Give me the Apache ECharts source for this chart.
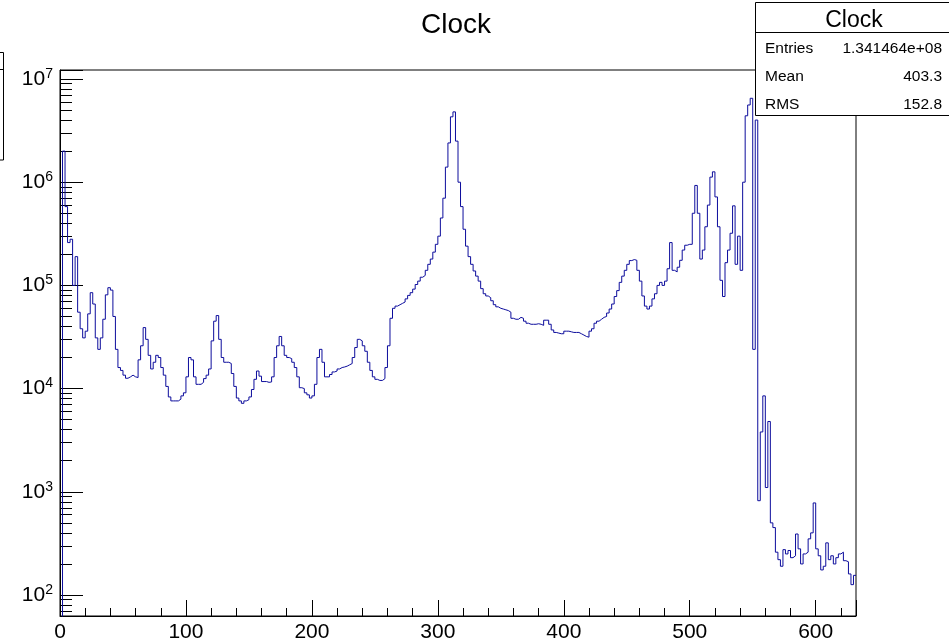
<!DOCTYPE html>
<html>
<head>
<meta charset="utf-8">
<script src="https://cdn.jsdelivr.net/npm/echarts@6/dist/echarts.min.js"></script>
<style>html,body{margin:0;padding:0;background:#fff;}#c{width:949px;height:644px;}</style>
</head>
<body>
<div id="c"></div>
<script>
// ---- data (histogram "Clock") ----
const binStart = 0;
const binWidth = 2;
const xMax = 632;
const yMin = 62.6;
const yMax = 1.222e7;
const counts = [
  10, 2.0e6, 5.8e5, 2.6e5, 2.8e5, 1.0e5, 1.9e5, 5.5e4, 3.8e4, 3.1e4,
  3.6e4, 5.3e4, 8.5e4, 6.6e4, 3.1e4, 2.4e4, 3.1e4, 4.7e4, 8.1e4, 9.5e4,
  9.0e4, 5.0e4, 2.4e4, 1.6e4, 1.5e4, 1.35e4, 1.26e4, 1.3e4, 1.35e4, 1.3e4,
  1.28e4, 1.9e4, 2.6e4, 3.9e4, 3.0e4, 2.1e4, 1.55e4, 1.8e4, 2.1e4, 2.0e4,
  1.6e4, 1.35e4, 1.05e4, 8.3e3, 7.6e3, 7.6e3, 7.6e3, 7.9e3, 8.5e3, 9.1e3,
  1.3e4, 2.0e4, 1.9e4, 1.3e4, 1.1e4, 1.1e4, 1.15e4, 1.25e4, 1.35e4, 1.55e4,
  2.9e4, 4.5e4, 5.1e4, 3.0e4, 2.0e4, 1.8e4, 1.8e4, 1.75e4, 1.4e4, 1.05e4,
  8.1e3, 7.6e3, 7.2e3, 7.6e3, 7.8e3, 8.3e3, 9.8e3, 1.23e4, 1.48e4, 1.32e4,
  1.17e4, 1.17e4, 1.15e4, 1.16e4, 1.3e4, 2.0e4, 2.6e4, 3.2e4, 2.6e4, 2.1e4,
  2.0e4, 1.95e4, 1.8e4, 1.6e4, 1.3e4, 1.02e4, 1.0e4, 9.1e3, 8.7e3, 8.1e3,
  8.5e3, 1.1e4, 2.0e4, 2.4e4, 1.8e4, 1.3e4, 1.3e4, 1.37e4, 1.45e4, 1.48e4,
  1.55e4, 1.6e4, 1.62e4, 1.65e4, 1.7e4, 1.75e4, 2.0e4, 2.5e4, 3.0e4, 2.9e4,
  2.6e4, 2.3e4, 1.8e4, 1.5e4, 1.3e4, 1.23e4, 1.2e4, 1.2e4, 1.25e4, 1.6e4,
  2.6e4, 4.8e4, 6.0e4, 6.3e4, 6.5e4, 6.7e4, 6.9e4, 7.4e4, 8.0e4, 8.5e4,
  9.2e4, 1.02e5, 1.1e5, 1.2e5, 1.25e5, 1.4e5, 1.6e5, 1.8e5, 2.1e5, 2.5e5,
  3.0e5, 4.5e5, 7.0e5, 1.4e6, 2.4e6, 4.3e6, 4.8e6, 2.5e6, 1.0e6, 5.8e5,
  3.5e5, 2.4e5, 1.9e5, 1.6e5, 1.38e5, 1.23e5, 1.1e5, 9.3e4, 8.3e4, 7.9e4,
  7.6e4, 7.1e4, 6.5e4, 6.2e4, 6.0e4, 5.9e4, 5.8e4, 5.7e4, 5.5e4, 4.8e4,
  4.7e4, 4.7e4, 4.9e4, 4.8e4, 4.5e4, 4.3e4, 4.2e4, 4.2e4, 4.2e4, 4.25e4,
  4.2e4, 4.1e4, 4.6e4, 4.6e4, 4.2e4, 3.7e4, 3.5e4, 3.45e4, 3.4e4, 3.4e4,
  3.6e4, 3.6e4, 3.55e4, 3.5e4, 3.5e4, 3.5e4, 3.4e4, 3.3e4, 3.2e4, 3.15e4,
  3.6e4, 3.8e4, 4.3e4, 4.5e4, 4.7e4, 4.9e4, 5.0e4, 5.4e4, 5.9e4, 6.6e4,
  7.8e4, 8.9e4, 1.07e5, 1.23e5, 1.4e5, 1.6e5, 1.74e5, 1.78e5, 1.75e5, 1.4e5,
  1.1e5, 7.9e4, 6.3e4, 5.9e4, 6.3e4, 7.4e4, 8.3e4, 1.0e5, 1.07e5, 1.0e5,
  1.1e5, 1.45e5, 2.6e5, 1.4e5, 1.35e5, 1.5e5, 1.75e5, 2.2e5, 2.45e5, 2.5e5,
  2.5e5, 5.0e5, 9.3e5, 5.0e5, 1.8e5, 2.2e5, 3.7e5, 6.0e5, 1.12e6, 1.26e6,
  7.2e5, 3.7e5, 1.12e5, 7.8e4, 1.66e5, 2.2e5, 3.2e5, 5.9e5, 1.6e5, 3.0e5,
  1.4e5, 1.0e6, 4.4e6, 5.6e6, 6.5e6, 2.4e4, 4.0e6, 820, 3.8e3, 8.5e3,
  1.1e3, 4.8e3, 500, 450, 260, 220, 190, 275, 250, 270,
  230, 240, 390, 280, 200, 250, 260, 350, 400, 780,
  280, 240, 175, 190, 320, 220, 240, 200, 230, 250,
  260, 215, 210, 160, 126, 155
];
const xMajorTicks = [0, 100, 200, 300, 400, 500, 600];
const xMinorTicks = [20,40,60,80,120,140,160,180,220,240,260,280,320,340,360,380,420,440,460,480,520,540,560,580,620];
const yDecades = [2, 3, 4, 5, 6, 7];
const titleText = 'Clock';
const statsLabels = ['Entries', 'Mean', 'RMS'];
const statsValues = ['1.341464e+08', '403.3', '152.8'];

// ---- build ----
const FONT = '"Liberation Sans", Arial, Helvetica, sans-serif';
const LINE = '#0c0c9c';
const seriesData = counts.map((c, i) => [binStart + i * binWidth, c]);
seriesData.push([binStart + counts.length * binWidth, counts[counts.length - 1]]);

const yMinorLog = [];
for (let n = 1; n <= 7; n++) {
  for (let k = 2; k <= 9; k++) {
    const v = k * Math.pow(10, n);
    if (v >= yMin && v <= yMax) yMinorLog.push(Math.log10(v));
  }
}

const chart = echarts.init(document.getElementById('c'), null, {renderer: 'canvas'});
const option = {
  animation: false,
  backgroundColor: '#fff',
  grid: {left: 60, right: 93, top: 70, bottom: 28, show: true, borderColor: '#000', borderWidth: 1, backgroundColor: 'transparent'},
  xAxis: [
    {
      type: 'value', min: 0, max: xMax, interval: 100, position: 'bottom',
      axisLine: {show: true, onZero: false, lineStyle: {color: '#000', width: 1}},
      axisTick: {show: true, inside: true, length: 16, lineStyle: {color: '#000'}},
      axisLabel: {
        color: '#000', fontSize: 21, fontFamily: FONT, margin: 6,
        formatter: v => (xMajorTicks.indexOf(v) >= 0 ? String(v) : '')
      },
      splitLine: {show: false}
    },
    {
      type: 'value', min: 0, max: xMax, position: 'bottom',
      axisLine: {show: false, onZero: false},
      axisTick: {show: true, inside: true, length: 8, customValues: xMinorTicks, lineStyle: {color: '#000'}},
      axisLabel: {show: false},
      splitLine: {show: false}
    }
  ],
  yAxis: [
    {
      type: 'log', logBase: 10, min: yMin, max: yMax, position: 'left',
      axisLine: {show: true, onZero: false, lineStyle: {color: '#000', width: 1}},
      axisTick: {show: true, inside: true, length: 23, lineStyle: {color: '#000'}},
      axisLabel: {
        margin: 7,
        formatter: v => {
          const l = Math.log10(v);
          const e = Math.round(l);
          if (Math.abs(l - e) > 0.01 || yDecades.indexOf(e) < 0) return '';
          return '{b|10}{e|' + e + '}';
        },
        rich: {
          b: {fontSize: 21, fontFamily: FONT, color: '#000', lineHeight: 24},
          e: {fontSize: 14, fontFamily: FONT, color: '#000', lineHeight: 12, verticalAlign: 'top'}
        }
      },
      splitLine: {show: false}
    },
    {
      type: 'value', min: Math.log10(yMin), max: Math.log10(yMax), position: 'left',
      axisLine: {show: false, onZero: false},
      axisTick: {show: true, inside: true, length: 12, customValues: yMinorLog, lineStyle: {color: '#000'}},
      axisLabel: {show: false},
      splitLine: {show: false}
    }
  ],
  series: [{
    type: 'line', xAxisIndex: 0, yAxisIndex: 0, step: 'end',
    data: seriesData, showSymbol: false, symbol: 'none', clip: true,
    lineStyle: {color: LINE, width: 1}
  }],
  graphic: [
    {type: 'text', z: 100, x: 456, y: 25, style: {text: titleText, font: '28px ' + FONT, fill: '#000', textAlign: 'center', textVerticalAlign: 'middle'}},
    {type: 'rect', z: 100, shape: {x: 755.5, y: 2.5, width: 200, height: 113}, style: {fill: '#fff', stroke: '#000', lineWidth: 1}},
    {type: 'line', z: 101, shape: {x1: 755.5, y1: 32.5, x2: 949, y2: 32.5}, style: {stroke: '#000', lineWidth: 1}},
    {type: 'text', z: 101, x: 854, y: 20.5, style: {text: titleText, font: '23px ' + FONT, fill: '#000', textAlign: 'center', textVerticalAlign: 'middle'}},
    {type: 'text', z: 101, x: 765, y: 49, style: {text: statsLabels[0], font: '15.5px ' + FONT, fill: '#000', textAlign: 'left', textVerticalAlign: 'middle'}},
    {type: 'text', z: 101, x: 765, y: 76.5, style: {text: statsLabels[1], font: '15.5px ' + FONT, fill: '#000', textAlign: 'left', textVerticalAlign: 'middle'}},
    {type: 'text', z: 101, x: 765, y: 104.5, style: {text: statsLabels[2], font: '15.5px ' + FONT, fill: '#000', textAlign: 'left', textVerticalAlign: 'middle'}},
    {type: 'text', z: 101, x: 942, y: 49, style: {text: statsValues[0], font: '15.5px ' + FONT, fill: '#000', textAlign: 'right', textVerticalAlign: 'middle'}},
    {type: 'text', z: 101, x: 942, y: 76.5, style: {text: statsValues[1], font: '15.5px ' + FONT, fill: '#000', textAlign: 'right', textVerticalAlign: 'middle'}},
    {type: 'text', z: 101, x: 942, y: 104.5, style: {text: statsValues[2], font: '15.5px ' + FONT, fill: '#000', textAlign: 'right', textVerticalAlign: 'middle'}},
    {type: 'rect', z: 100, shape: {x: -60, y: 52.5, width: 63.5, height: 107.5}, style: {fill: '#fff', stroke: '#000', lineWidth: 1}},
    {type: 'line', z: 101, shape: {x1: 0, y1: 69.5, x2: 3.5, y2: 69.5}, style: {stroke: '#000', lineWidth: 1}}
  ]
};
chart.setOption(option);
</script>
</body>
</html>
